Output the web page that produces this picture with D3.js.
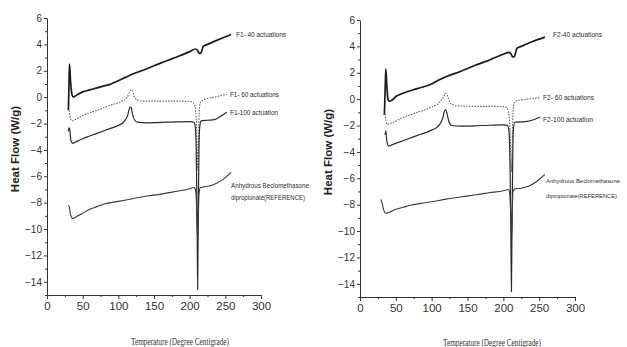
<!DOCTYPE html>
<html>
<head>
<meta charset="utf-8">
<script src="https://cdn.jsdelivr.net/npm/d3@7"></script>
<style>
  body { margin: 0; background: #fff; }
  svg { display: block; }
  .tick text { fill: #333; }
</style>
</head>
<body>
<svg id="chart" width="627" height="347"></svg>
<script>
// temperature (deg C) / heat flow (W/g) pairs
const f1_40 = [[30,-1.0],[30.8,1.0],[31.5,2.5],[33,1.2],[35,0.2],[37,0.0],[40,0.1],[50,0.4],[60,0.55],[70,0.7],[80,0.85],[90,1.0],[100,1.25],[110,1.5],[120,1.75],[140,2.15],[160,2.6],[180,3.0],[200,3.45],[208,3.65],[211,3.55],[213,3.35],[215,3.3],[217,3.5],[219,3.85],[225,4.0],[240,4.35],[258,4.75]];
const f1_60 = [[31,-1.0],[32,-1.4],[35,-1.8],[38,-1.75],[50,-1.4],[70,-1.0],[90,-0.6],[105,-0.3],[112,-0.05],[117,0.5],[119,0.55],[122,0.1],[126,-0.2],[135,-0.3],[160,-0.3],[190,-0.3],[203,-0.35],[207,-0.6],[209,-1.5],[210.5,-4],[211.5,-5.5],[212.5,-3],[213.5,-1.0],[215,-0.4],[220,-0.2],[235,0.0],[252,0.2]];
const f1_100 = [[30,-2.6],[31,-2.3],[32,-2.5],[33.5,-3.3],[36,-3.5],[40,-3.4],[50,-3.15],[60,-2.95],[70,-2.75],[80,-2.55],[90,-2.35],[100,-2.15],[108,-1.85],[113,-1.4],[116.5,-0.75],[118,-0.8],[120,-1.3],[123,-1.75],[127,-1.9],[140,-1.95],[170,-1.9],[200,-1.85],[206,-1.9],[208,-2.3],[209.5,-5],[210.5,-10],[211.2,-14.6],[212,-9],[213,-4],[214,-2.3],[216,-1.8],[225,-1.75],[235,-1.7],[242,-1.5],[252,-1.15]];
const f1_ref = [[30,-8.2],[31.5,-8.4],[33,-8.9],[36,-9.2],[40,-9.1],[50,-8.8],[60,-8.5],[70,-8.3],[80,-8.1],[100,-7.9],[120,-7.7],[140,-7.5],[160,-7.35],[180,-7.15],[200,-6.95],[206,-6.85],[208,-7.0],[209.5,-8],[210.5,-10],[211.3,-10.8],[212.2,-9],[213.2,-7.3],[215,-6.85],[220,-6.8],[230,-6.7],[240,-6.45],[248,-6.2],[255,-5.85],[258,-5.7]];

const f2_40 = [[34,-1.2],[35,0.5],[36,2.3],[37.5,1.0],[39,0.0],[41,-0.15],[44,-0.1],[50,0.2],[60,0.45],[80,0.8],[100,1.15],[110,1.45],[120,1.7],[140,2.1],[160,2.55],[180,2.95],[200,3.4],[208,3.55],[211,3.4],[213,3.2],[215,3.2],[217,3.5],[219,3.85],[225,4.0],[240,4.35],[258,4.7]];
const f2_60 = [[35,-1.1],[36,-1.6],[38,-1.9],[42,-1.85],[60,-1.4],[80,-1.0],[100,-0.6],[110,-0.3],[116,0.1],[120,0.45],[123,0.1],[127,-0.35],[135,-0.5],[160,-0.55],[190,-0.55],[203,-0.6],[207,-0.9],[209,-2],[210.5,-4.5],[211.5,-5.5],[212.5,-3],[213.5,-1.0],[215,-0.3],[220,-0.1],[235,0.0],[251,0.1]];
const f2_100 = [[35,-2.7],[36,-2.4],[37.5,-3.2],[40,-3.55],[45,-3.45],[60,-3.15],[80,-2.75],[100,-2.35],[110,-2.0],[115,-1.5],[119,-0.8],[121,-1.0],[124,-1.7],[128,-2.0],[140,-2.05],[170,-2.0],[200,-1.95],[206,-2.0],[208,-2.5],[209.5,-5.5],[210.5,-10],[211.3,-14.6],[212.2,-9],[213.2,-4],[214.2,-2.2],[216,-1.75],[230,-1.7],[240,-1.6],[251,-1.35]];
const f2_ref = [[29,-7.6],[31,-7.9],[33,-8.4],[36,-8.65],[40,-8.6],[50,-8.35],[60,-8.2],[70,-8.05],[85,-7.9],[100,-7.78],[120,-7.58],[140,-7.42],[160,-7.27],[180,-7.1],[200,-6.95],[207,-6.85],[209,-7.2],[210.5,-9],[211.5,-10.5],[212.5,-8.5],[213.5,-7.0],[216,-6.8],[225,-6.75],[235,-6.6],[245,-6.3],[252,-6.0],[258,-5.7]];

const xTicks = [0, 50, 100, 150, 200, 250, 300];
const yTicks = [6, 4, 2, 0, -2, -4, -6, -8, -10, -12, -14];

const leftLabels = [
  {text: "F1- 40 actuations", x: 236, y: 37, w: 50, fs: 8},
  {text: "F1- 60 actuations", x: 230, y: 97, w: 49, fs: 8},
  {text: "F1-100 actuation", x: 230, y: 115, w: 48, fs: 8},
  {text: "Anhydrous Beclomethasone", x: 231, y: 188, w: 78, fs: 8},
  {text: "dipropionate(REFERENCE)", x: 231, y: 200, w: 74, fs: 8}
];
const rightLabels = [
  {text: "F2-40 actuations", x: 553, y: 37, w: 49, fs: 8},
  {text: "F2- 60 actuations", x: 543, y: 100, w: 51, fs: 8},
  {text: "F2-100 actuation", x: 543, y: 122, w: 50, fs: 8},
  {text: "Anhydrous Beclomethasone", x: 546, y: 183, w: 74, fs: 6.1},
  {text: "dipropionate(REFERENCE)", x: 546, y: 198, w: 71, fs: 6.1}
];

const svg = d3.select("#chart");

function drawPanel(opts){
  const x = d3.scaleLinear().domain([0, 300]).range([opts.x0, opts.x1]);
  const y = d3.scaleLinear().domain([-15, 6]).range([opts.yb, opts.yt]);
  const g = svg.append("g");

  // minor ticks
  g.append("g")
    .attr("transform", "translate(0," + opts.yb + ")")
    .call(d3.axisBottom(x).tickValues(d3.range(25, 300, 50)).tickSize(2).tickFormat(""))
    .call(a => a.select(".domain").remove())
    .selectAll("line").attr("stroke", "#333");
  g.append("g")
    .attr("transform", "translate(" + opts.x0 + ",0)")
    .call(d3.axisLeft(y).tickValues(d3.range(-15, 6, 2)).tickSize(2).tickFormat(""))
    .call(a => a.select(".domain").remove())
    .selectAll("line").attr("stroke", "#333");

  const xAxis = g.append("g")
    .attr("transform", "translate(0," + opts.yb + ")")
    .call(d3.axisBottom(x).tickValues(xTicks).tickSize(4).tickSizeOuter(0).tickPadding(3));
  xAxis.selectAll("text")
    .style("font-family", "'Liberation Sans Narrow', 'Arial Narrow', sans-serif")
    .style("font-size", "11.5px");

  const yAxis = g.append("g")
    .attr("transform", "translate(" + opts.x0 + ",0)")
    .call(d3.axisLeft(y).tickValues(yTicks).tickSize(3).tickSizeOuter(0).tickPadding(2));
  yAxis.selectAll("text")
    .style("font-family", "'Liberation Sans Narrow', 'Arial Narrow', sans-serif")
    .style("font-size", "10px");
  g.selectAll(".domain, .tick line").attr("stroke", "#333");

  const line = d3.line()
    .x(d => x(d[0]))
    .y(d => y(d[1]))
    .curve(d3.curveMonotoneX);

  const series = [
    {data: opts.s40, w: 1.7, color: "#1b1b1b", dash: null},
    {data: opts.s60, w: 1.1, color: "#6a6a6a", dash: "1.6,1.2"},
    {data: opts.s100, w: 1.2, color: "#2a2a2a", dash: null},
    {data: opts.ref, w: 1.1, color: "#3a3a3a", dash: null}
  ];
  g.selectAll("path.curve")
    .data(series)
    .enter()
    .append("path")
    .attr("class", "curve")
    .attr("d", d => line(d.data))
    .attr("fill", "none")
    .attr("stroke", d => d.color)
    .attr("stroke-width", d => d.w)
    .attr("stroke-dasharray", d => d.dash);

  g.selectAll("text.lbl")
    .data(opts.labels)
    .enter()
    .append("text")
    .attr("class", "lbl")
    .attr("x", d => d.x)
    .attr("y", d => d.y)
    .attr("textLength", d => d.w)
    .attr("lengthAdjust", "spacingAndGlyphs")
    .style("font-family", "'Liberation Sans Narrow', 'Arial Narrow', sans-serif")
    .style("font-size", d => d.fs + "px")
    .attr("fill", "#2c2c3c")
    .text(d => d.text);

  g.append("text")
    .attr("transform", "translate(" + opts.ylx + "," + opts.yly + ") rotate(-90)")
    .attr("text-anchor", "middle")
    .style("font-family", "'Liberation Sans', Arial, sans-serif")
    .style("font-weight", "bold")
    .style("font-size", "11.5px")
    .attr("fill", "#222")
    .text("Heat Flow (W/g)");

  g.append("text")
    .attr("x", opts.xlx)
    .attr("y", opts.xly)
    .attr("text-anchor", "middle")
    .attr("textLength", 98)
    .attr("lengthAdjust", "spacingAndGlyphs")
    .style("font-family", "'Liberation Serif', 'Times New Roman', serif")
    .style("font-size", "10px")
    .attr("fill", "#333")
    .text("Temperature (Degree Centigrade)");
}

drawPanel({x0: 47, x1: 261, yt: 18, yb: 295, s40: f1_40, s60: f1_60, s100: f1_100, ref: f1_ref,
  labels: leftLabels, ylx: 19, yly: 149, xlx: 180, xly: 345});
drawPanel({x0: 360, x1: 575, yt: 20, yb: 297, s40: f2_40, s60: f2_60, s100: f2_100, ref: f2_ref,
  labels: rightLabels, ylx: 332, yly: 152, xlx: 492, xly: 346});
</script>
</body>
</html>
